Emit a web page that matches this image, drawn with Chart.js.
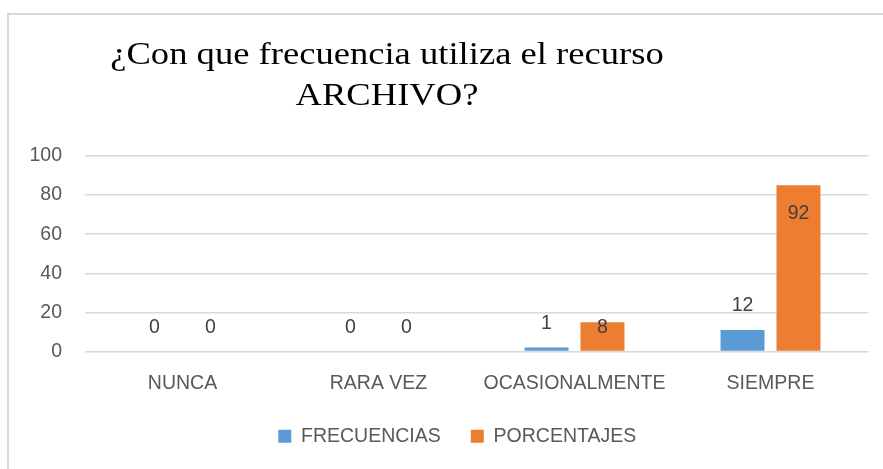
<!DOCTYPE html>
<html>
<head>
  <title>Archivo</title>
  <script src="https://cdn.jsdelivr.net/npm/chart.js"></script>
  <style>
    body { margin: 0; background: #fff; overflow: hidden; }
    #frame { position: absolute; left: 7px; top: 13px; width: 1000px; height: 600px;
             border-left: 2px solid #d9d9d9; border-top: 2px solid #d9d9d9; }
    #title { position: absolute; left: 0; top: 33px; width: 774px; text-align: center;
             font-family: "Liberation Serif", "Times New Roman", serif; font-size: 31px;
             line-height: 41px; color: #000; transform: scaleX(1.18); transform-origin: 387px 0; }
    canvas { position: absolute; left: 0; top: 0; }
  </style>
</head>
<body>
  <div id="frame"></div>
  <canvas id="chart" width="883" height="469"></canvas>
  <div id="title">¿Con que frecuencia utiliza el recurso<br>ARCHIVO?</div>

  <script>
    // ====================
    // Data
    // ====================
    const categories = ['NUNCA', 'RARA VEZ', 'OCASIONALMENTE', 'SIEMPRE'];
    // bar heights as drawn
    const frecuencias = [0, 0, 2, 11];
    const porcentajes = [0, 0, 15, 85];
    // numbers printed on the bars
    const frecuenciasLabels = [0, 0, 1, 12];
    const porcentajesLabels = [0, 0, 8, 92];
    const yTicks = [0, 20, 40, 60, 80, 100];

    const FONT = '"Liberation Sans", Arial, sans-serif';

    // value labels, Excel style
    const barLabels = {
      id: 'barLabels',
      afterDatasetsDraw(chart) {
        const ctx = chart.ctx;
        const base = chart.scales.y.getPixelForValue(0);
        ctx.save();
        ctx.font = '19.5px ' + FONT;
        ctx.fillStyle = '#404040';
        ctx.textAlign = 'center';
        ctx.textBaseline = 'middle';
        chart.data.datasets.forEach((ds, i) => {
          chart.getDatasetMeta(i).data.forEach((bar, j) => {
            const pos = ds.labelPos[j];
            let y = bar.y - 24;
            if (pos === 'inside') y = bar.y + 28;
            if (pos === 'base') y = base - 24;
            ctx.fillText(String(ds.labels[j]), bar.x, y);
          });
        });
        ctx.restore();
      }
    };

    // the legend sits a little right of centre in the original
    const nudgeLegend = {
      id: 'nudgeLegend',
      afterLayout(chart) {
        chart.legend.left += 23;
        chart.legend.right += 23;
      }
    };

    new Chart(document.getElementById('chart'), {
      type: 'bar',
      data: {
        labels: categories,
        datasets: [{
          label: 'FRECUENCIAS',
          data: frecuencias,
          labels: frecuenciasLabels,
          labelPos: ['end', 'end', 'end', 'end'],
          backgroundColor: '#5b9bd5'
        }, {
          label: 'PORCENTAJES',
          data: porcentajes,
          labels: porcentajesLabels,
          labelPos: ['end', 'end', 'base', 'inside'],
          backgroundColor: '#ed7d31'
        }]
      },
      options: {
        responsive: false,
        animation: false,
        categoryPercentage: 0.571,
        barPercentage: 0.786,
        layout: { padding: { top: 156, right: 14.5, left: 0, bottom: 13 } },
        scales: {
          x: {
            afterFit: s => { s.height = 45; },
            grid: { display: false },
            border: { display: false },
            ticks: { color: '#595959', font: { family: FONT, size: 19.5 }, padding: 12 }
          },
          y: {
            min: 0,
            max: 100,
            afterBuildTicks: s => { s.ticks = yTicks.map(v => ({ value: v })); },
            afterFit: s => { s.width = 84.5; },
            grid: { color: '#d9d9d9', lineWidth: 1.5, drawTicks: false },
            border: { display: false },
            ticks: { color: '#595959', font: { family: FONT, size: 19.5 }, padding: 22.5 }
          }
        },
        plugins: {
          legend: {
            position: 'bottom',
            labels: {
              color: '#595959',
              font: { family: FONT, size: 19.5 },
              boxWidth: 13,
              boxHeight: 13,
              padding: 30
            }
          },
          tooltip: { enabled: false }
        }
      },
      plugins: [barLabels, nudgeLegend]
    });
  </script>
</body>
</html>
